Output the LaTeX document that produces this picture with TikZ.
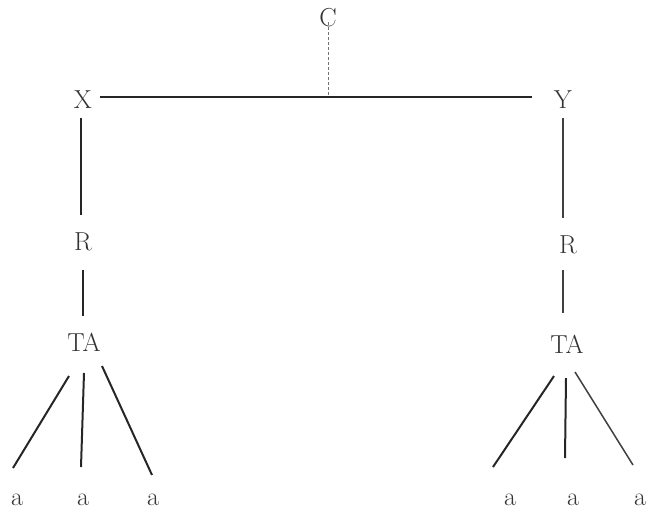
\documentclass[tikz,border=0pt]{standalone}
\usetikzlibrary{calc}
\begin{document}
\begin{tikzpicture}[x=1pt,y=-1pt,
  lbl/.style={inner sep=0pt,font=\fontsize{26}{29}\selectfont,text=black!80},
  edge/.style={draw=black!85,line width=2pt},
  thinedge/.style={draw=black!75,line width=1.5pt},
  dotedge/.style={draw=black!55,line width=1pt,dash pattern=on 3pt off 2pt}]
\useasboundingbox (0,0) rectangle (650,517);
% nodes
\node[lbl] (C) at (328,18) {C};
\coordinate (J) at (328,97);
\node[lbl] (X) at (83,100) {X};
\node[lbl] (Y) at (563,100) {Y};
\node[lbl] (R1) at (83,242) {R};
\node[lbl] (R2) at (568,245) {R};
\node[lbl] (T1) at (84,342) {TA};
\node[lbl] (T2) at (567,344) {TA};
\node[lbl] (a1) at (17,500) {a};
\node[lbl] (a2) at (83,500) {a};
\node[lbl] (a3) at (153,500) {a};
\node[lbl] (b1) at (510,500) {a};
\node[lbl] (b2) at (573,500) {a};
\node[lbl] (b3) at (640,500) {a};
% connectors
\draw[dotedge] ([yshift=5]C.south) -- (J);
\draw[edge] ([shift={(17,-3)}]X.center) -- ([shift={(-31,-3)}]Y.center);
\draw[edge] ([shift={(-2,18)}]X.center) -- ([shift={(-2,-27)}]R1.center);
\draw[edge] ([shift={(0,28)}]R1.center) -- ([shift={(-1,-26)}]T1.center);
\draw[thinedge] ([shift={(0,18)}]Y.center) -- ([shift={(-5,-27)}]R2.center);
\draw[thinedge] ([shift={(-5,25)}]R2.center) -- ([shift={(-4,-31)}]T2.center);
% left fan
\draw[edge] ([shift={(-15,34)}]T1.center) -- ([shift={(-4,-32)}]a1.center);
\draw[edge] ([shift={(0,31)}]T1.center) -- ([shift={(-2,-33)}]a2.center);
\draw[edge] ([shift={(18,24)}]T1.center) -- ([shift={(-1,-25)}]a3.center);
% right fan
\draw[edge] ([shift={(-13,32)}]T2.center) -- ([shift={(-17,-33)}]b1.center);
\draw[edge] ([shift={(-1,34)}]T2.center) -- ([shift={(-8,-42)}]b2.center);
\draw[thinedge] ([shift={(8,28)}]T2.center) -- ([shift={(-7,-35)}]b3.center);
\end{tikzpicture}
\end{document}
